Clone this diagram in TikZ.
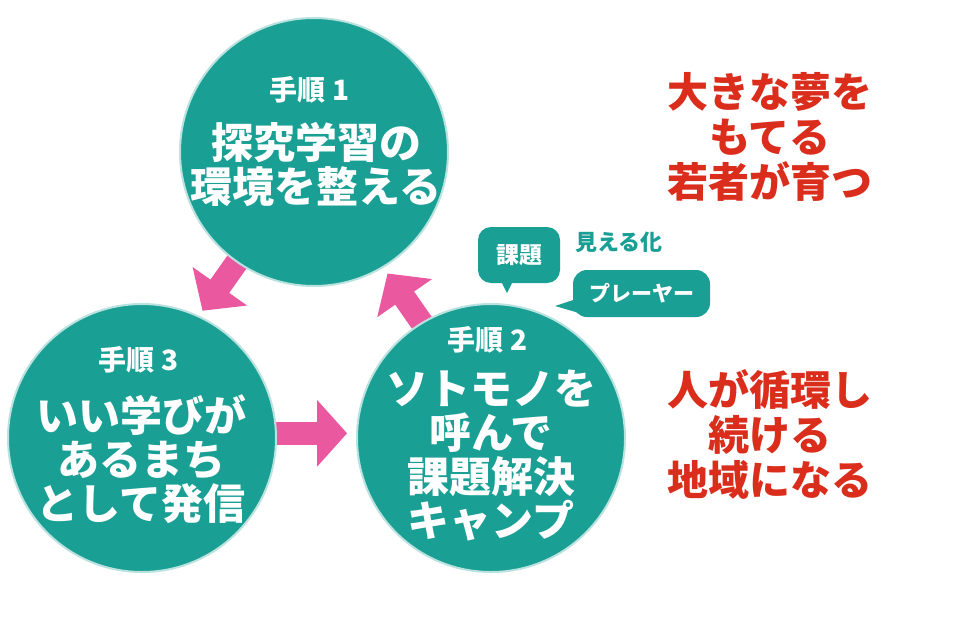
\documentclass[tikz,border=0pt]{standalone}
\usepackage{fontspec}
\newfontfamily\jp{Noto Sans CJK JP}
\usetikzlibrary{arrows.meta,calc}
\definecolor{teal1}{RGB}{25,159,148}
\definecolor{pink1}{RGB}{234,88,160}
\definecolor{red1}{RGB}{218,45,28}
\pgfdeclarelayer{background}
\pgfsetlayers{background,main}
\begin{document}
\begin{tikzpicture}[x=1pt,y=-1pt,
  circ/.style={circle, fill=teal1, draw=teal1!30, line width=2pt, minimum size=268pt, inner sep=0pt},
  lab/.style={text=white, font={\jp\bfseries\fontsize{28}{30}\selectfont}},
  main/.style={text=white, align=center, font={\jp\bfseries\fontsize{42}{44}\selectfont}},
  goal/.style={text=red1, align=center, font={\jp\bfseries\fontsize{41}{45}\selectfont}},
  parrow/.style={draw=pink1, line width=23pt, -{Triangle[width=65pt,length=30pt]}},
  bubble/.style={fill=teal1, text=white, inner sep=0pt},
]
\begin{pgfonlayer}{background}
\fill[white] (0,0) rectangle (960,640);
\end{pgfonlayer}
\useasboundingbox (0,0) rectangle (960,640);

% circles
\node[circ] (c1) at (314,152) {};
\node[circ] (c2) at (491,438) {};
\node[circ] (c3) at (142,438) {};

% arrows
\begin{pgfonlayer}{background}
\draw[parrow, shorten <=-8pt, shorten >=6pt] (c1.235) -- (c3.65);
\draw[parrow, shorten <=-8pt, shorten >=7pt] (c2.121) -- (c1.301);
\draw[parrow, shorten <=-8pt, shorten >=9pt] (c3.2) -- (c2.178);
\end{pgfonlayer}

% circle texts
\node[lab] (l1) at (310,90) {手順\kern7pt 1};
\node[main] (m1) at (316,165) {探究学習の\\環境を整える};
\node[lab] (l3) at (139,360) {手順\kern7pt 3};
\node[main] (m3) at (141,459) {いい学びが\\あるまち\\として発信};
\node[lab] (l2) at (488,340) {手順\kern7pt 2};
\node[main] (m2) at (491,456) {ソトモノを\\呼んで\\課題解決\\キャンプ};

% goals
\node[goal] (g1) at (770,137) {大きな夢を\\もてる\\若者が育つ};
\node[goal] (g2) at (770,434) {人が循環し\\続ける\\地域になる};

% bubbles
\node[bubble, rounded corners=13pt, minimum width=82pt, minimum height=56pt,
      font={\jp\bfseries\fontsize{23}{26}\selectfont}] (b1) at (519,255) {課題};
\coordinate (t1) at (507,293);
\fill[teal1] ([xshift=-18pt,yshift=2pt]b1.south) -- (t1) -- ([xshift=-6pt,yshift=2pt]b1.south) -- cycle;

\node[bubble, rounded corners=14pt, minimum width=137pt, minimum height=47pt,
      font={\jp\bfseries\fontsize{21}{24}\selectfont}] (b2) at (641.5,293.5) {プレーヤー};
\coordinate (t2) at (555,306);
\fill[teal1] ([xshift=2pt,yshift=-6pt]b2.west) -- (t2) -- ([xshift=8pt,yshift=-20pt]b2.west) -- cycle;

\node[text=teal1, font={\jp\bfseries\fontsize{22}{25}\selectfont}] (v) at (619,242) {見える化};
\end{tikzpicture}
\end{document}
